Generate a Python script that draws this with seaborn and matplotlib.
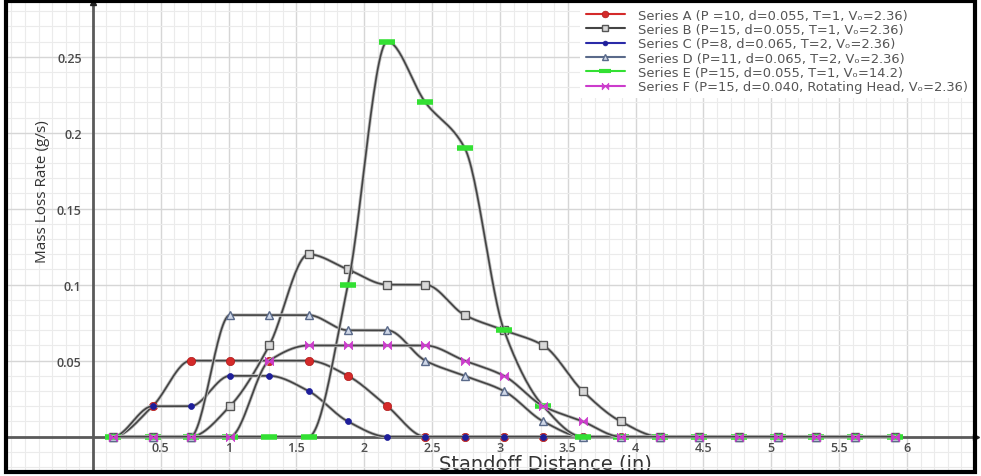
import numpy as np
import pandas as pd
import seaborn as sns
import matplotlib.pyplot as plt
from matplotlib.lines import Line2D
from matplotlib.patches import Rectangle
import matplotlib.patheffects as pe

sns.set_style("white")
plt.rcParams['font.family'] = ['Open Sans', 'DejaVu Sans']

# standoff distance (in) of each measuring point
standoff = [0.15, 0.44, 0.72, 1.01, 1.30, 1.59, 1.88, 2.17, 2.45, 2.74, 3.03,
            3.32, 3.61, 3.89, 4.18, 4.47, 4.76, 5.05, 5.33, 5.62, 5.91]

# mass loss rate (g/s)
series_a = [0, 0.02, 0.05, 0.05, 0.05, 0.05, 0.04, 0.02, 0, 0, 0,
            0, 0, 0, 0, 0, 0, 0, 0, 0, 0]
series_b = [0, 0, 0, 0.02, 0.06, 0.12, 0.11, 0.10, 0.10, 0.08, 0.07,
            0.06, 0.03, 0.01, 0, 0, 0, 0, 0, 0, 0]
series_c = [0, 0.02, 0.02, 0.04, 0.04, 0.03, 0.01, 0, 0, 0, 0,
            0, 0, 0, 0, 0, 0, 0, 0, 0, 0]
series_d = [0, 0, 0, 0.08, 0.08, 0.08, 0.07, 0.07, 0.05, 0.04, 0.03,
            0.01, 0, 0, 0, 0, 0, 0, 0, 0, 0]
series_e = [0, 0, 0, 0, 0, 0, 0.10, 0.26, 0.22, 0.19, 0.07,
            0.02, 0, 0, 0, 0, 0, 0, 0, 0, 0]
series_f = [0, 0, 0, 0, 0.05, 0.06, 0.06, 0.06, 0.06, 0.05, 0.04,
            0.02, 0.01, 0, 0, 0, 0, 0, 0, 0, 0]

labels = ["Series A (P =10, d=0.055, T=1, V\u2092=2.36)",
          "Series B (P=15, d=0.055, T=1, V\u2092=2.36)",
          "Series C (P=8, d=0.065, T=2, V\u2092=2.36)",
          "Series D (P=11, d=0.065, T=2, V\u2092=2.36)",
          "Series E (P=15, d=0.055, T=1, V\u2092=14.2)",
          "Series F (P=15, d=0.040, Rotating Head, V\u2092=2.36)"]
x_ticks = [0.5, 1, 1.5, 2, 2.5, 3, 3.5, 4, 4.5, 5, 5.5, 6]
y_ticks = [0.05, 0.1, 0.15, 0.2, 0.25]


def smooth(x, y, n=30):
    # monotone cubic (pchip) curve through the points, like the smoothed lines
    x = np.asarray(x, float)
    y = np.asarray(y, float)
    h = np.diff(x)
    d = np.diff(y) / h
    m = np.zeros_like(y)
    for k in range(1, len(y) - 1):
        if d[k - 1] * d[k] > 0:
            w1 = 2 * h[k] + h[k - 1]
            w2 = h[k] + 2 * h[k - 1]
            m[k] = (w1 + w2) / (w1 / d[k - 1] + w2 / d[k])
    xs, ys = [], []
    for k in range(len(x) - 1):
        t = np.linspace(0, 1, n)
        h00 = 2 * t**3 - 3 * t**2 + 1
        h10 = t**3 - 2 * t**2 + t
        h01 = -2 * t**3 + 3 * t**2
        h11 = t**3 - t**2
        xs.extend(x[k] + t * h[k])
        ys.extend(h00 * y[k] + h10 * h[k] * m[k] + h01 * y[k + 1] + h11 * h[k] * m[k + 1])
    return np.array(xs), np.array(ys)


bowtie = [(-1, 1), (-1, -1), (1, 1), (1, -1), (-1, 1)]
styles = [
    dict(color='#d42a2a', marker='o', ms=6, mfc='#d42a2a', mec='#b01818', mew=0.5),
    dict(color='#444444', marker='s', ms=5.5, mfc='#d8d8d8', mec='#555555', mew=1),
    dict(color='#2a2aa8', marker='o', ms=4.3, mfc='#1e1e9a', mec='#1e1e9a', mew=0.5),
    dict(color='#5a6a8a', marker='^', ms=5.5, mfc='#d0d8e8', mec='#5a6a8a', mew=1),
    dict(color='#33e033', marker='_', ms=11, mfc='#33e033', mec='#33e033', mew=4),
    dict(color='#cc3ccc', marker=bowtie, ms=6, mfc='#cc3ccc', mec='#cc3ccc', mew=0.5),
]
all_series = [series_a, series_b, series_c, series_d, series_e, series_f]

fig = plt.figure(figsize=(9.81, 4.77), dpi=100)
ax = fig.add_axes([8 / 981, 5 / 477, 968 / 981, 469 / 477])

handles = []
for i, (vals, st, lab) in enumerate(zip(all_series, styles, labels)):
    xs, ys = smooth(standoff, vals)
    curve = pd.DataFrame({'x': xs, 'y': ys})
    sns.lineplot(data=curve, x='x', y='y', ax=ax, sort=False, estimator=None,
                 color='#444444', lw=1.2, zorder=3 + i * 2,
                 path_effects=[pe.Stroke(linewidth=2.4, foreground='#bdbdbd'), pe.Normal()])
    ax.plot(standoff, vals, linestyle='none', marker=st['marker'], ms=st['ms'],
            mfc=st['mfc'], mec=st['mec'], mew=st['mew'], zorder=4 + i * 2, clip_on=False)
    handles.append(Line2D([], [], color=st['color'], lw=1.5, marker=st['marker'],
                          ms=st['ms'] * 0.8, mfc=st['mfc'], mec=st['mec'],
                          mew=min(st['mew'], 3)))

ax.set_xlim(-0.625, 6.508)
ax.set_ylim(-0.0226, 0.286)

# axes crossing at the origin
ax.spines['left'].set_position(('data', 0))
ax.spines['bottom'].set_position(('data', 0))
ax.spines['top'].set_visible(False)
ax.spines['right'].set_visible(False)
for s in ['left', 'bottom']:
    ax.spines[s].set_color('#5a5a5a')
    ax.spines[s].set_linewidth(2)
    ax.spines[s].set_zorder(2)
ax.plot(1, 0, '>', color='#222222', ms=5, transform=ax.get_yaxis_transform(), clip_on=False, zorder=20)
ax.plot(0, 1, '^', color='#222222', ms=5, transform=ax.get_xaxis_transform(), clip_on=False, zorder=20)

ax.set_xticks(x_ticks)
ax.set_xticklabels([f'{v:g}' for v in x_ticks])
ax.set_yticks(y_ticks)
ax.set_yticklabels([f'{v:g}' for v in y_ticks])
ax.set_xticks(np.arange(-0.6, 6.55, 0.1), minor=True)
ax.set_yticks(np.arange(-0.02, 0.29, 0.01), minor=True)
ax.tick_params(axis='both', which='both', length=0, labelsize=9, labelcolor='#4a4a4a')
ax.tick_params(axis='x', pad=3)
ax.tick_params(axis='y', pad=8)
for t in ax.get_xticklabels() + ax.get_yticklabels():
    t.set_fontweight('semibold')

ax.grid(True, which='major', color='#d6d6d6', lw=1, zorder=0)
ax.grid(True, which='minor', color='#ebebeb', lw=0.8, zorder=0)
ax.set_axisbelow(True)

ax.set_xlabel('Standoff Distance (in)', fontsize=14, color='#333333',
              family=['DejaVu Sans'])
ax.xaxis.label.set_va('baseline')
ax.xaxis.set_label_coords(0.555, 0.006)
ax.set_ylabel('Mass Loss Rate (g/s)', fontsize=11, color='#333333')
ax.yaxis.set_label_coords(0.043, 0.597)

leg = ax.legend(handles, labels, loc='upper right', bbox_to_anchor=(0.997, 0.997),
                handlelength=3.0, handletextpad=1.0, labelspacing=0.1,
                borderaxespad=0, borderpad=0.4, frameon=True, fancybox=False,
                facecolor='white', edgecolor='none', framealpha=1,
                prop={'family': 'DejaVu Sans', 'size': 9.4})
leg.set_zorder(30)
for t in leg.get_texts():
    t.set_color('#555555')

fig.patches.append(Rectangle((0.006, 0.008), 0.988, 0.988, transform=fig.transFigure,
                             fill=False, edgecolor='black', lw=3))

fig.savefig('out.png', dpi=100)
